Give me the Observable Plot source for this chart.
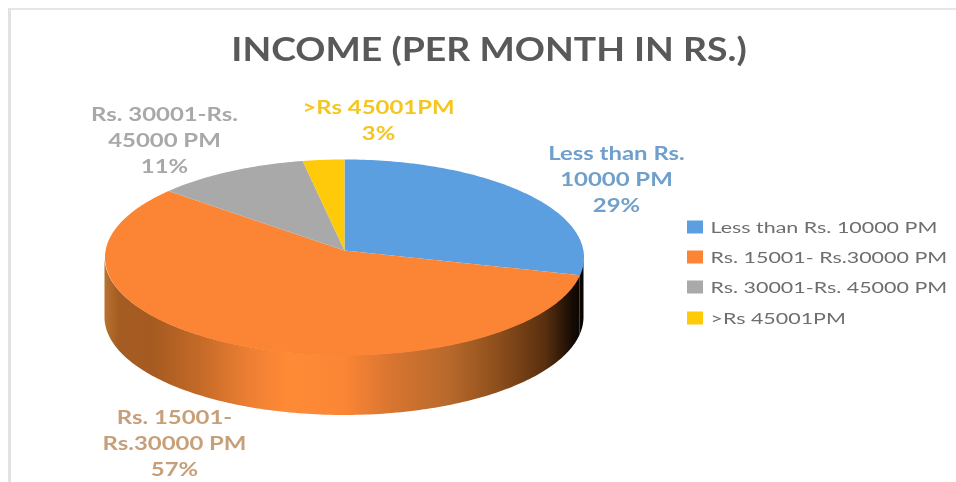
<!DOCTYPE html>
<html>
<head>
<meta charset="utf-8">
<script src="https://cdn.jsdelivr.net/npm/d3@7"></script>
<script src="https://cdn.jsdelivr.net/npm/@observablehq/plot@0.6"></script>
<style>
html,body{margin:0;padding:0;background:#fff;overflow:hidden}
#frame{position:absolute;left:8px;top:8px;width:948px;height:474px;border-left:3px solid #e2e2e2;border-top:2px solid #e6e6e6;box-sizing:border-box}
#wrap{position:absolute;left:0;top:0;width:956px;height:482px;filter:blur(0.75px)}
#title{position:absolute;left:0;top:0;width:978px;height:76px;text-align:center;font:700 32.5px/97px Lato,sans-serif;color:#595959;white-space:nowrap;transform:scaleX(1.15);transform-origin:489px 0}
#chart{position:absolute;left:0;top:76px}
svg{display:block;background:transparent}
</style>
</head>
<body>
<div id="frame"></div>
<div id="wrap">
<div id="title">INCOME (PER MONTH IN RS.)</div>
<div id="chart"></div>
</div>
<script>
// Data
const categories = ["Less than Rs. 10000 PM", "Rs. 15001- Rs.30000 PM", "Rs. 30001-Rs. 45000 PM", ">Rs 45001PM"];
const shares = [29, 57, 11, 3];
const labelLines = [["Less than Rs.", "10000 PM"], ["Rs. 15001-", "Rs.30000 PM"], ["Rs. 30001-Rs.", "45000 PM"], [">Rs 45001PM"]];

// Styles and layout
const sliceColors = ["#5c9fe0", "#fb8535", "#a9a9a9", "#ffca0a"];
const labelColors = ["#6f9fca", "#c79f78", "#a8a8a8", "#f4c620"];
const labelAnchors = [[616, 177], [174, 441], [164, 138], [378, 118]];
const legendX = [687, 703], legendTextX = 710, legendY = [227, 257, 287, 318];
const titleSpace = 76, W = 956, H = 482;
const labelStretch = 1.33, legendStretch = 1.34;
// Tilted-disc projection of the pie plane
const disc = {cx: 344, cy: 250, a: 97.5, b: 238.9, k: 0.0714, depth: 60};
const project = deg => {
  const t = deg * Math.PI / 180, X = Math.sin(t), Y = Math.cos(t), d = 1 + disc.k * Y;
  return {x: disc.cx + disc.b * X / d, y: disc.cy - disc.a * Y / d};
};

// Slice angles come from the shares
const total = d3.sum(shares);
let acc = 0;
const slices = categories.map((c, i) => {
  const start = acc / total * 360; acc += shares[i];
  return {c, start, end: acc / total * 360};
});
const arcAngles = (a, b) => {
  const out = [], n = Math.max(2, Math.ceil(b - a));
  for (let i = 0; i <= n; i++) out.push(a + (b - a) * i / n);
  return out;
};
const tops = slices.flatMap(s => [
  {c: s.c, x: disc.cx, y: disc.cy},
  ...arcAngles(s.start, s.end).map(t => ({c: s.c, ...project(t)}))
]);
const silA = Math.acos(-disc.k) * 180 / Math.PI, silB = 360 - silA;
const sides = slices.flatMap(s => {
  const a = Math.max(s.start, silA), b = Math.min(s.end, silB);
  if (b <= a) return [];
  return arcAngles(a, b).map(t => { const p = project(t); return {c: s.c, x: p.x, y: p.y, y2: p.y + disc.depth}; });
});
const legend = categories.map((c, i) => ({c, y: legendY[i]}));

const sideStops = [[0, "#b87430"], [0.03, "#a55c22"], [0.1, "#a55a20"], [0.2, "#c46a28"], [0.3, "#ec7e33"], [0.38, "#ff8a36"], [0.5, "#fb8635"], [0.6, "#d87530"], [0.72, "#b8692c"], [0.82, "#8e4f1c"], [0.92, "#5a300f"], [0.98, "#140a04"], [1, "#080402"]];
const gradient = () => {
  const defs = d3.create("svg:defs");
  const g = defs.append("linearGradient").attr("id", "side").attr("gradientUnits", "userSpaceOnUse")
    .attr("x1", 104).attr("x2", 583).attr("y1", 0).attr("y2", 0);
  sideStops.forEach(([o, col]) => g.append("stop").attr("offset", o).attr("stop-color", col));
  return defs.node();
};

const labelFont = {fontFamily: "Lato, sans-serif", fontWeight: 700, fontSize: 18, lineHeight: 1.47, lineAnchor: "middle", textAnchor: "middle"};
const plot = Plot.plot({
  width: W, height: H - titleSpace,
  margin: 0,
  x: {domain: [0, W], range: [0, W], axis: null},
  y: {domain: [titleSpace, H], range: [0, H - titleSpace], axis: null},
  color: {domain: categories, range: sliceColors},
  style: {background: "transparent"},
  marks: [
    gradient,
    Plot.area(sides, {x1: "x", y1: "y", y2: "y2", z: "c", fill: "url(#side)", curve: "linear"}),
    Plot.line(tops, {x: "x", y: "y", z: "c", fill: "c", stroke: null, curve: "linear"}),
    ...categories.map((c, i) => Plot.text([{t: [...labelLines[i], shares[i] + "%"].join("\n")}], {
      ...labelFont, x: () => labelAnchors[i][0], y: () => labelAnchors[i][1], text: "t", fill: labelColors[i]
    })),
    Plot.rect(legend, {x1: () => legendX[0], x2: () => legendX[1], y1: d => d.y - 6.5, y2: d => d.y + 6.5, fill: "c"}),
    Plot.text(legend, {x: () => legendTextX, y: "y", text: "c", fill: "#6e6e6e", textAnchor: "start", lineAnchor: "middle", fontFamily: "Lato, sans-serif", fontSize: 16})
  ]
});
// The reference's text is horizontally stretched: widen each text about its own anchor
d3.select(plot).selectAll('g[aria-label="text"]').each(function () {
  const k = this.getAttribute("text-anchor") === "start" ? legendStretch : labelStretch;
  d3.select(this).selectAll("text").attr("transform", function () {
    return (this.getAttribute("transform") || "") + ` scale(${k},1)`;
  });
});
document.getElementById("chart").append(plot);
</script>
</body>
</html>
